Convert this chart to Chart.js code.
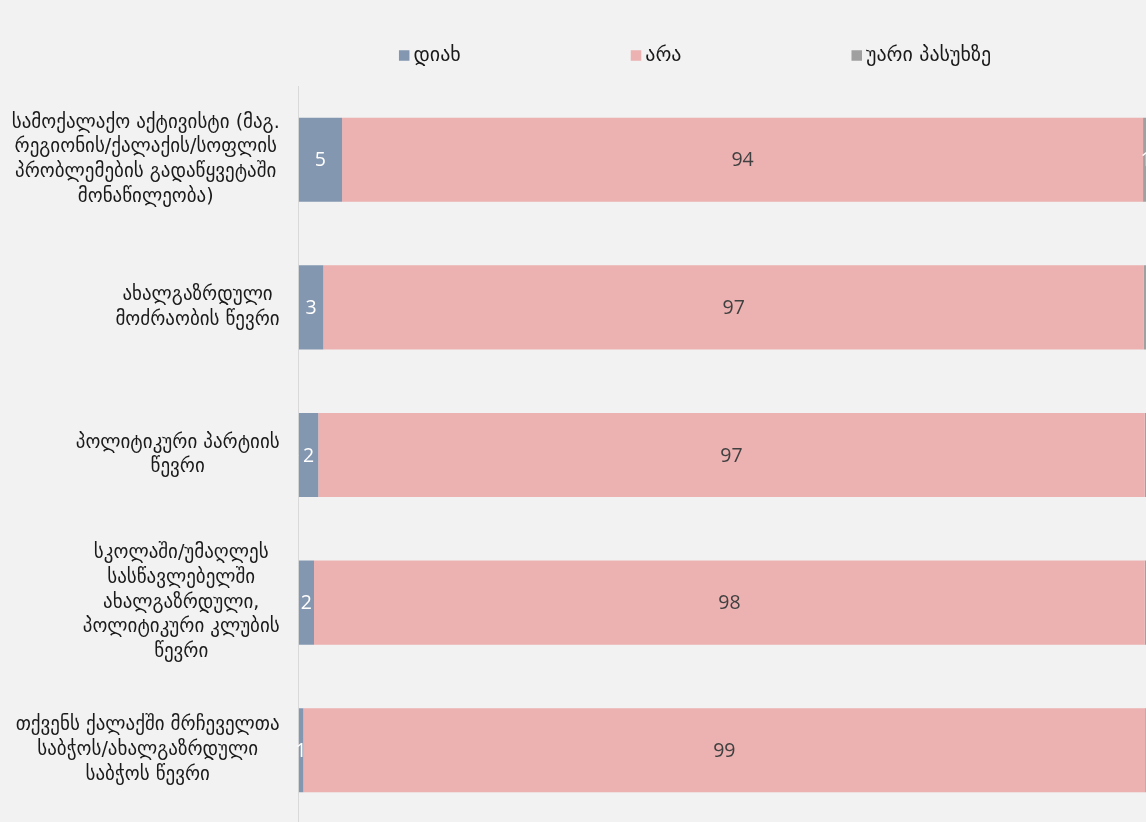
<!DOCTYPE html>
<html>
<head>
<meta charset="utf-8">
<script src="https://cdn.jsdelivr.net/npm/chart.js@4.4.0/dist/chart.umd.min.js"></script>
<style>
    html, body { margin: 0; padding: 0; background: #f2f2f2; overflow: hidden; }
    #wrap { position: relative; width: 1152px; height: 826px; }
</style>
</head>
<body>
<div id="wrap"><canvas id="surveyChart"></canvas></div>
<script>
// categories (each one split into lines as in the original)
const categories = [
    ['სამოქალაქო აქტივისტი (მაგ.', 'რეგიონის/ქალაქის/სოფლის', 'პრობლემების გადაწყვეტაში', 'მონაწილეობა)'],
    ['ახალგაზრდული ', 'მოძრაობის წევრი'],
    ['პოლიტიკური პარტიის', 'წევრი'],
    ['სკოლაში/უმაღლეს', 'სასწავლებელში', 'ახალგაზრდული,', 'პოლიტიკური კლუბის', 'წევრი'],
    ['თქვენს ქალაქში მრჩეველთა', 'საბჭოს/ახალგაზრდული', 'საბჭოს წევრი']
];
const seriesNames = ['დიახ', 'არა', 'უარი პასუხზე'];
const yesValues = [5.1, 2.9, 2.3, 1.8, 0.55];
const noValues = [94.2, 96.5, 97.2, 97.7, 99.0];
const refusedValues = [0.7, 0.4, 0.4, 0.4, 0.4];

const georgianFont = '"DejaVu Sans", sans-serif';
const numberFont = '"Open Sans", "Noto Sans", sans-serif';

// category labels: each block right aligned, its lines centered inside the block
const categoryLabels = {
    id: 'categoryLabels',
    afterDraw(chart) {
        const ctx = chart.ctx;
        const yScale = chart.scales.y;
        const right = chart.chartArea.left - 19;
        ctx.save();
        ctx.font = '19px ' + georgianFont;
        ctx.fillStyle = '#1a1a1a';
        ctx.textAlign = 'center';
        ctx.textBaseline = 'middle';
        const lineH = 24.7;
        categories.forEach((lines, i) => {
            const widest = Math.max(...lines.map(l => ctx.measureText(l.trim()).width));
            const cx = right - widest / 2;
            const cy = yScale.getPixelForValue(i);
            const top = cy - (lines.length - 1) * lineH / 2;
            lines.forEach((l, j) => ctx.fillText(l.trim(), cx, top + j * lineH));
        });
        ctx.restore();
    }
};

// values written in the middle of every segment
const segmentLabels = {
    id: 'segmentLabels',
    afterDatasetsDraw(chart) {
        const ctx = chart.ctx;
        const colors = ['#ffffff', '#404040', '#ffffff'];
        ctx.save();
        ctx.font = '19.5px ' + numberFont;
        ctx.textAlign = 'center';
        ctx.textBaseline = 'middle';
        chart.data.datasets.forEach((ds, d) => {
            chart.getDatasetMeta(d).data.forEach((bar, i) => {
                const v = Math.round(ds.data[i]);
                if (!v) return;
                ctx.fillStyle = colors[d];
                ctx.fillText(String(v), (bar.x + bar.base) / 2, bar.y + 1);
            });
        });
        ctx.restore();
    }
};

// legend spread out above the plot
const spreadLegend = {
    id: 'spreadLegend',
    afterDraw(chart) {
        const ctx = chart.ctx;
        const gap = 170, box = 10.5, cy = 55.5, center = 695;
        ctx.save();
        ctx.font = '20px ' + georgianFont;
        ctx.textBaseline = 'middle';
        const items = chart.data.datasets.map(ds => ({
            text: ds.label, color: ds.backgroundColor,
            w: box + 4 + ctx.measureText(ds.label).width
        }));
        const total = items.reduce((s, it) => s + it.w, 0) + gap * (items.length - 1);
        let x = center - total / 2;
        items.forEach(it => {
            ctx.fillStyle = it.color;
            ctx.fillRect(x, cy - box / 2, box, box);
            ctx.fillStyle = '#1a1a1a';
            ctx.fillText(it.text, x + box + 4, cy);
            x += it.w + gap;
        });
        ctx.restore();
    }
};

const ctx = document.getElementById('surveyChart');
new Chart(ctx, {
    type: 'bar',
    data: {
        labels: categories,
        datasets: [{
            label: seriesNames[0],
            data: yesValues,
            backgroundColor: '#8497b0'
        }, {
            label: seriesNames[1],
            data: noValues,
            backgroundColor: '#ecb1b1'
        }, {
            label: seriesNames[2],
            data: refusedValues,
            backgroundColor: '#a0a0a0'
        }]
    },
    options: {
        indexAxis: 'y',
        responsive: true,
        maintainAspectRatio: false,
        animation: false,
        barPercentage: 0.57,
        categoryPercentage: 1,
        layout: {
            padding: { top: 86, right: 3, bottom: 2, left: 0 }
        },
        scales: {
            x: {
                stacked: true,
                display: false,
                min: 0,
                max: 100
            },
            y: {
                stacked: true,
                grid: { display: false },
                border: { display: true, color: '#d9d9d9', width: 1 },
                ticks: { display: false },
                afterFit(scale) { scale.width = 298.7; }
            }
        },
        plugins: {
            legend: { display: false },
            tooltip: { enabled: false }
        }
    },
    plugins: [categoryLabels, segmentLabels, spreadLegend]
});
</script>
</body>
</html>
